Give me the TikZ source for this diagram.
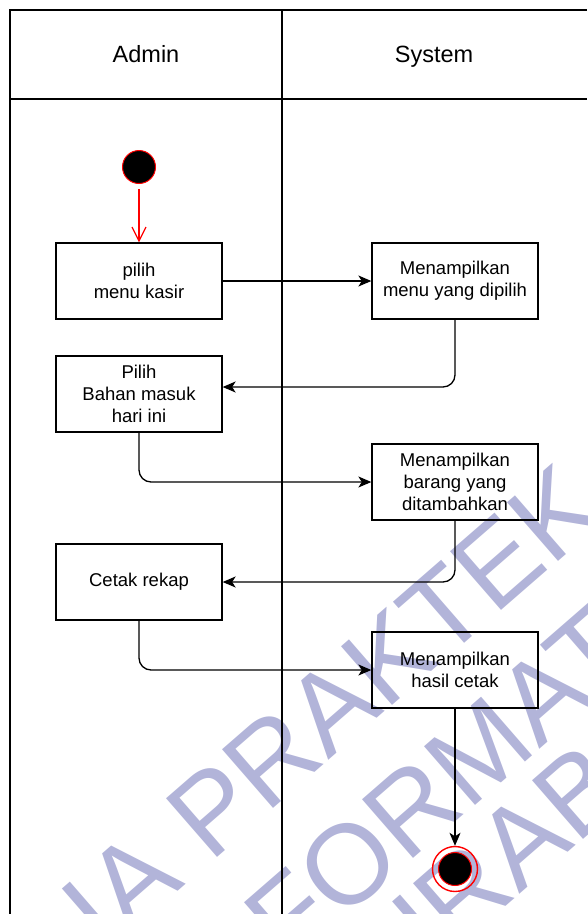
\documentclass[tikz,border=0pt]{standalone}
\usepackage{fontspec}
\setmainfont{Liberation Sans}
\usetikzlibrary{arrows.meta}
\definecolor{wmark}{RGB}{178,180,217}
\begin{document}
\begin{tikzpicture}[x=1pt,y=-1pt,
  lane/.style={line width=1.3pt,draw=black},
  act/.style={draw=black,line width=1.3pt,minimum width=166pt,minimum height=76pt,
    align=center,inner sep=0pt,font=\fontsize{18.5}{21.8}\selectfont},
  hdr/.style={font=\fontsize{23.5}{28}\selectfont,anchor=base},
  flow/.style={line width=1.3pt,rounded corners=12pt,
    -{Stealth[length=13pt,width=11pt,inset=3.5pt]}},
  wm/.style={text=wmark,font=\fontsize{113}{113}\selectfont,rotate=41,
    anchor=base west,inner sep=0pt}
]
\useasboundingbox (0,0) rectangle (587,914);

% watermark lettering
\node[wm] (wm1) at (210,864) {\llap{IA }PRAKTEK};
\node[wm] (wm2) at (288,968) {\llap{N}FORMATI};
\node[wm] (wm3) at (396,1002) {\llap{S}URABAYA};

% swimlane frame
\draw[lane] (10,914) -- (10,10) -- (587,10);
\draw[lane] (10,99) -- (587,99);
\draw[lane] (282,10) -- (282,914);
\node[hdr] (hadmin) at (146,62) {Admin};
\node[hdr] (hsys) at (434,62) {System};

% activities
\node[act] (b1) at (139,281) {pilih\\menu kasir};
\node[act] (b2) at (455,281) {Menampilkan\\menu yang dipilih};
\node[act] (b3) at (139,394) {Pilih\\Bahan masuk\\hari ini};
\node[act] (b4) at (455,482) {Menampilkan\\barang yang\\ditambahkan};
\node[act] (b5) at (139,582) {Cetak rekap};
\node[act] (b6) at (455,670) {Menampilkan\\hasil cetak};

% initial and final states
\node[circle,fill=black,draw=red,line width=1pt,minimum size=33pt,inner sep=0pt] (start) at (139,167) {};
\node[circle,draw=red,line width=1.4pt,minimum size=45pt,inner sep=0pt] (fin) at (455,869) {};
\node[circle,fill=black,draw=red,line width=1pt,minimum size=33pt,inner sep=0pt] (finc) at (fin.center) {};

% control flow
\draw[red,line width=1.2pt,shorten <=5pt,-{Straight Barb[length=14pt,width=14pt]}] (start) -- (b1);
\draw[flow] (b1) -- (b2);
\draw[flow] (b2.south) |- ([yshift=7pt]b3.east);
\draw[flow] (b3.south) |- (b4.west);
\draw[flow] (b4.south) |- (b5.east);
\draw[flow] (b5.south) |- (b6.west);
\draw[flow] (b6.south) -- (fin.north);
\end{tikzpicture}
\end{document}
